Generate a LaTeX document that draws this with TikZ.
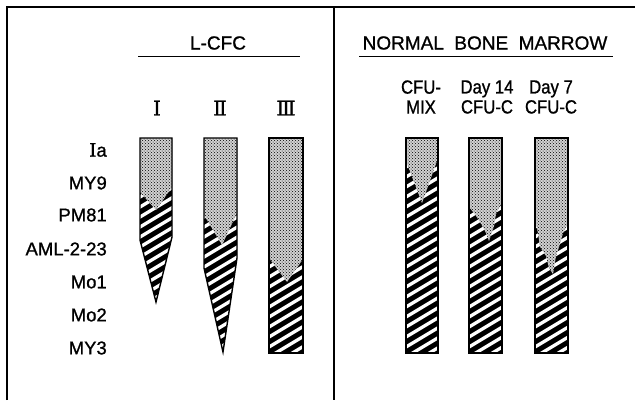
\documentclass[tikz,border=0pt]{standalone}
\usepackage{fontspec}
\setmainfont[FakeBold=1]{Liberation Sans}
\newfontfamily\narrowfont[FakeStretch=0.88,FakeBold=1]{Liberation Sans}
\newfontfamily\numfont[FakeBold=1]{DejaVu Serif}
\newfontfamily\serifI[FakeBold=1]{DejaVu Serif}
\usetikzlibrary{patterns}

\tikzset{
  marker/.style={anchor=east,inner sep=0pt,font=\fontsize{18.5}{18}\selectfont},
  colhead/.style={align=center,inner sep=0pt,font=\narrowfont\fontsize{19}{20}\selectfont},
  panelhead/.style={inner sep=0pt,font=\fontsize{19}{19}\selectfont},
  roman/.style={inner sep=0pt,font=\numfont\fontsize{20}{20}\selectfont},
  frame/.style={line width=1.8pt},
  rule/.style={line width=0.9pt},
  outline/.style={line width=1.4pt,line join=miter},
}

% bar: #1 left edge, #2 outline path, #3 stippled part
\newcommand{\colonybar}[3]{%
  \begin{scope}
    \clip #2;
    \fill[black] (#1-5,130) rectangle (#1+45,360);
    \foreach \k in {0,...,25}
      \draw[white,line width=3.3pt] (#1-5,130+10*\k) -- ++(50,-30);
  \end{scope}
  \fill[gray!35] #3;
  \fill[pattern=crosshatch dots,pattern color=black] #3;
  \draw[outline] #2;
}

\begin{document}
\begin{tikzpicture}[x=1pt,y=-1pt]
  \useasboundingbox (0,0) rectangle (635,400);
  % frame
  \draw[frame] (7,400) -- (7,7) -- (635,7);
  \draw[frame] (334,7) -- (334,400);

  % left panel
  \node[panelhead] (lcfc) at (218,43) {L-CFC};
  \draw[rule] (138,56) -- (300,56);
  \node[roman] (rI) at (157,108) {Ⅰ};
  \node[roman] (rII) at (220,108) {Ⅱ};
  \node[roman] (rIII) at (286,108) {Ⅲ};

  \node[marker] (ia) at (107,150) {{\serifI I}a};
  \node[marker] (my9) at (107,183) {MY9};
  \node[marker] (pm81) at (107,215) {PM81};
  \node[marker] (aml) at (107,249) {AML-2-23};
  \node[marker] (mo1) at (107,282) {Mo1};
  \node[marker] (mo2) at (107,315) {Mo2};
  \node[marker] (my3) at (107,348) {MY3};

  \colonybar{140}{(140,138) -- (172,138) -- (172,237) -- (156,302) -- (140,240) -- cycle}
    {(140,138) -- (172,138) -- (172,187) -- (156,210) -- (140,192) -- cycle}
  \colonybar{204}{(204,138) -- (237,138) -- (237,258) -- (223,352) -- (204,268) -- cycle}
    {(204,138) -- (237,138) -- (237,213) -- (222,245) -- (204,215) -- cycle}
  \colonybar{269}{(269,138) -- (303,138) -- (303,353) -- (269,353) -- cycle}
    {(269,138) -- (303,138) -- (303,259) -- (287,282) -- (269,258) -- cycle}

  % right panel
  \node[panelhead] (nbm) at (485,43) {NORMAL\hspace{0.55em}BONE\hspace{0.55em}MARROW};
  \draw[rule] (359,56) -- (613,56);
  \node[colhead] (mix) at (421,97) {CFU-\\MIX};
  \node[colhead] (d14) at (487,97) {Day 14\\CFU-C};
  \node[colhead] (d7) at (551,97) {Day 7\\CFU-C};

  \colonybar{406}{(406,138) -- (438,138) -- (438,353) -- (406,353) -- cycle}
    {(406,138) -- (438,138) -- (438,158) -- (422,203) -- (406,161) -- cycle}
  \colonybar{469}{(469,138) -- (502,138) -- (502,353) -- (469,353) -- cycle}
    {(469,138) -- (502,138) -- (502,202) -- (496,214) -- (494,226) -- (489,241) -- (486,233) -- (480,222) -- (474,213) -- (469,207) -- cycle}
  \colonybar{535}{(535,138) -- (568,138) -- (568,353) -- (535,353) -- cycle}
    {(535,138) -- (568,138) -- (568,223) -- (563,233) -- (560,244) -- (556,256) -- (553,274) -- (549,268) -- (546,256) -- (540,247) -- (538,233) -- (535,220) -- cycle}
\end{tikzpicture}
\end{document}
